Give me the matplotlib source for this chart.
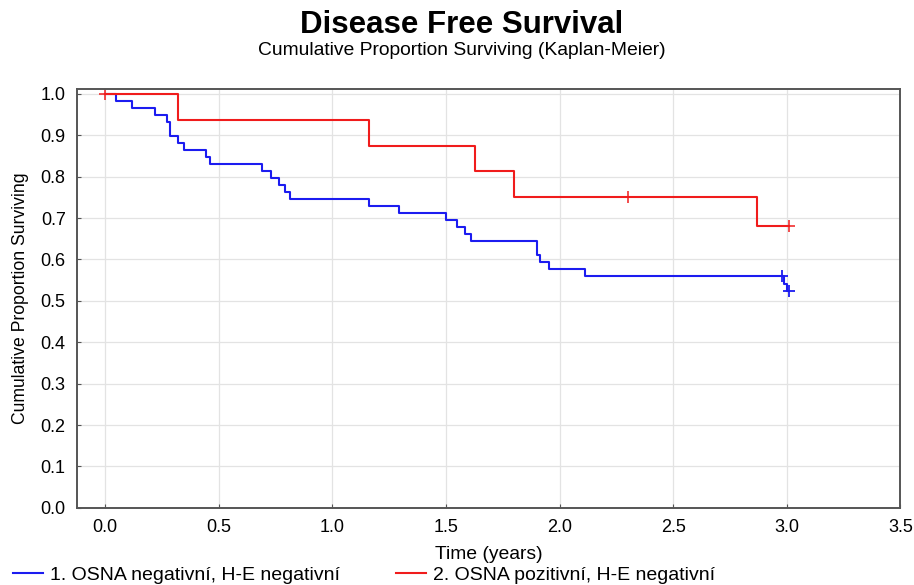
import numpy as np
import matplotlib
matplotlib.use("Agg")
import matplotlib.pyplot as plt
from matplotlib.lines import Line2D

plt.rcParams['font.family'] = ['Liberation Sans', 'DejaVu Sans']

# ===== Data =====
blue_label = "1. OSNA negativní, H-E negativní"
red_label = "2. OSNA pozitivní, H-E negativní"

blue_t = [0.0, 0.048, 0.12, 0.22, 0.272, 0.286, 0.32, 0.348, 0.442, 0.46,
          0.692, 0.73, 0.764, 0.793, 0.812, 1.16, 1.292, 1.502, 1.549, 1.583,
          1.611, 1.899, 1.916, 1.953, 2.111, 2.99, 3.0, 3.01]
blue_s = [1.0, 0.983, 0.966, 0.949, 0.932, 0.898, 0.881, 0.864, 0.847, 0.831,
          0.814, 0.797, 0.780, 0.763, 0.746, 0.729, 0.712, 0.695, 0.678, 0.661,
          0.644, 0.610, 0.593, 0.576, 0.559, 0.541, 0.524, 0.524]
blue_cens_t = [2.98, 3.01]
blue_cens_s = [0.559, 0.524]

red_t = [0.0, 0.32, 1.163, 1.63, 1.80, 2.87, 3.01]
red_s = [1.0, 0.9375, 0.875, 0.8125, 0.75, 0.682, 0.682]
red_cens_t = [0.0, 2.30, 3.01]
red_cens_s = [1.0, 0.75, 0.682]

x_ticks = [0.0, 0.5, 1.0, 1.5, 2.0, 2.5, 3.0, 3.5]
y_ticks = [0.0, 0.1, 0.2, 0.3, 0.4, 0.5, 0.6, 0.7, 0.8, 0.9, 1.0]

BLUE = "#1c1cf0"
RED = "#f01c1c"

# ===== Plot =====
fig = plt.figure(figsize=(9.14, 5.85), dpi=100)
ax = fig.add_axes([0.084, 0.132, 0.901, 0.716])

ax.step(blue_t, blue_s, where='post', color=BLUE, lw=1.5)
ax.step(red_t, red_s, where='post', color=RED, lw=1.5)
ax.plot(blue_cens_t, blue_cens_s, ls='none', marker='+', ms=9, mew=1.3, color=BLUE)
ax.plot(red_cens_t, red_cens_s, ls='none', marker='+', ms=9, mew=1.1, color=RED)

ax.set_xlim(-0.125, 3.5)
ax.set_ylim(0.0, 1.012)
ax.set_xticks(x_ticks)
ax.set_yticks(y_ticks)
ax.set_xticklabels([f"{v:.1f}" for v in x_ticks])
ax.set_yticklabels([f"{v:.1f}" for v in y_ticks])
ax.tick_params(direction='in', length=3, width=0.8, color='#555555',
               labelsize=13, pad=8)
ax.grid(True, color='#e3e3e3', lw=0.9)
ax.set_axisbelow(True)
for sp in ax.spines.values():
    sp.set_color('#555555')
    sp.set_linewidth(1.4)

ax.set_xlabel("Time (years)", fontsize=13.9, labelpad=7)
ax.set_ylabel("Cumulative Proportion Surviving", fontsize=12.7, labelpad=8)

fig.text(0.505, 0.958, "Disease Free Survival", ha='center', va='center',
         fontsize=22.5, fontweight='bold')
fig.text(0.505, 0.913, "Cumulative Proportion Surviving (Kaplan-Meier)",
         ha='center', va='center', fontsize=13.9)

handles = [Line2D([], [], color=BLUE, lw=1.5), Line2D([], [], color=RED, lw=1.5)]
fig.legend(handles, [blue_label, red_label], loc='center left',
           bbox_to_anchor=(0.014, 0.017), ncol=2, frameon=False, borderpad=0,
           borderaxespad=0, fontsize=14, handlelength=1.55, handletextpad=0.35,
           columnspacing=2.9)

fig.savefig("out.png", dpi=100)
